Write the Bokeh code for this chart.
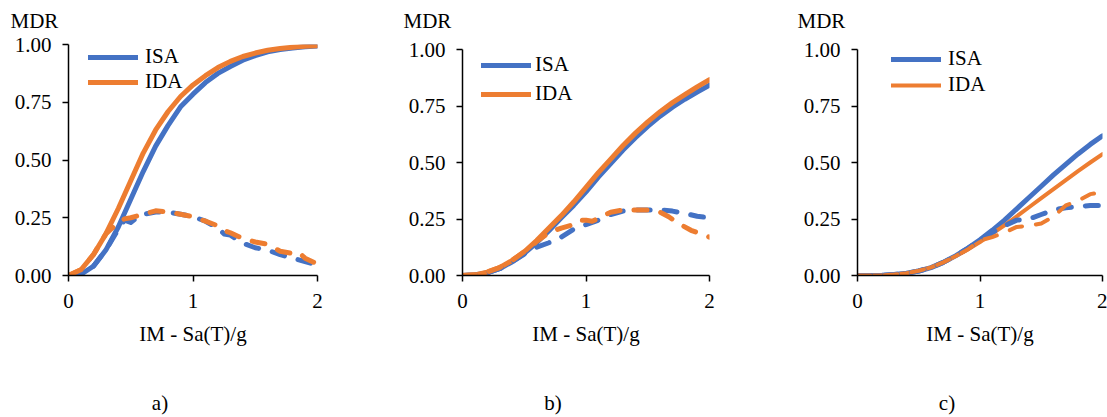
from bokeh.plotting import figure
from bokeh.layouts import row
from bokeh.models import Range1d, FixedTicker, NumeralTickFormatter, Legend, LegendItem, Label
from bokeh.embed import file_html
from bokeh.resources import INLINE

# ---------------- data ----------------
IM = [0.0, 0.1, 0.2, 0.3, 0.4, 0.5, 0.6, 0.7, 0.8, 0.9, 1.0,
      1.1, 1.2, 1.3, 1.4, 1.5, 1.6, 1.7, 1.8, 1.9, 2.0]

# panel a)
a_isa_mean = [0, 0.005, 0.04, 0.11, 0.21, 0.33, 0.45, 0.56, 0.65, 0.73, 0.785,
              0.835, 0.875, 0.905, 0.932, 0.952, 0.968, 0.978, 0.985, 0.99, 0.994]
a_ida_mean = [0, 0.025, 0.09, 0.18, 0.29, 0.41, 0.53, 0.63, 0.71, 0.775, 0.825,
              0.865, 0.9, 0.927, 0.948, 0.963, 0.975, 0.983, 0.988, 0.992, 0.995]
a_isa_sd_x = [0, 0.1, 0.2, 0.3, 0.4, 0.45, 0.5, 0.55, 0.6, 0.7, 0.8, 0.9, 1.0,
              1.1, 1.2, 1.25, 1.3, 1.4, 1.5, 1.55, 1.6, 1.7, 1.8, 1.9, 2.0]
a_isa_sd = [0, 0.005, 0.04, 0.11, 0.2, 0.24, 0.23, 0.25, 0.265, 0.275, 0.275, 0.265, 0.255,
            0.235, 0.205, 0.18, 0.175, 0.14, 0.12, 0.115, 0.11, 0.09, 0.075, 0.06, 0.045]
a_ida_sd_x = [0, 0.1, 0.2, 0.3, 0.4, 0.45, 0.5, 0.6, 0.7, 0.8, 0.9, 1.0,
              1.1, 1.2, 1.25, 1.3, 1.4, 1.5, 1.6, 1.7, 1.8, 1.85, 1.9, 2.0]
a_ida_sd = [0, 0.025, 0.09, 0.18, 0.23, 0.245, 0.25, 0.265, 0.28, 0.275, 0.265, 0.255,
            0.235, 0.215, 0.195, 0.185, 0.16, 0.145, 0.135, 0.105, 0.095, 0.1, 0.075, 0.05]

# panel b)
b_isa_mean = [0, 0.002, 0.012, 0.03, 0.06, 0.098, 0.145, 0.198, 0.255, 0.31, 0.37,
              0.435, 0.495, 0.555, 0.61, 0.66, 0.705, 0.745, 0.78, 0.812, 0.842]
b_ida_mean = [0, 0.003, 0.015, 0.035, 0.066, 0.105, 0.155, 0.21, 0.265, 0.325, 0.39,
              0.455, 0.515, 0.575, 0.63, 0.68, 0.725, 0.765, 0.80, 0.835, 0.867]
b_isa_sd_x = [0, 0.1, 0.2, 0.3, 0.4, 0.5, 0.6, 0.7, 0.77, 0.9, 1.0, 1.1, 1.2,
              1.3, 1.4, 1.5, 1.6, 1.7, 1.8, 1.9, 2.0]
b_isa_sd = [0, 0.002, 0.012, 0.03, 0.06, 0.095, 0.125, 0.145, 0.16, 0.205, 0.225, 0.245, 0.27,
            0.285, 0.29, 0.29, 0.29, 0.285, 0.275, 0.262, 0.255]
b_ida_sd_x = [0, 0.1, 0.2, 0.3, 0.4, 0.5, 0.6, 0.7, 0.8, 0.9, 0.95, 1.0, 1.05,
              1.2, 1.3, 1.4, 1.5, 1.6, 1.67, 1.75, 1.85, 1.9, 2.0]
b_ida_sd = [0, 0.003, 0.015, 0.035, 0.066, 0.105, 0.15, 0.19, 0.21, 0.225, 0.245, 0.245, 0.24,
            0.28, 0.29, 0.29, 0.29, 0.28, 0.26, 0.23, 0.2, 0.19, 0.17]

# panel c)
c_isa_mean = [0, 0, 0.001, 0.004, 0.01, 0.02, 0.035, 0.058, 0.087, 0.12, 0.158,
              0.2, 0.245, 0.295, 0.345, 0.395, 0.445, 0.492, 0.538, 0.58, 0.618]
c_ida_mean = [0, 0, 0.001, 0.004, 0.01, 0.021, 0.036, 0.058, 0.085, 0.115, 0.148,
              0.185, 0.222, 0.262, 0.302, 0.342, 0.382, 0.422, 0.462, 0.5, 0.537]
c_isa_sd = [0, 0, 0.001, 0.004, 0.01, 0.02, 0.035, 0.058, 0.087, 0.12, 0.155,
            0.19, 0.22, 0.245, 0.25, 0.27, 0.29, 0.30, 0.305, 0.31, 0.31]
c_ida_sd = [0, 0, 0.001, 0.004, 0.01, 0.021, 0.036, 0.058, 0.085, 0.115, 0.155,
            0.17, 0.19, 0.215, 0.22, 0.23, 0.26, 0.31, 0.33, 0.36, 0.37]

Y_TICKS = [0, 0.25, 0.5, 0.75, 1.0]
X_TICKS = [0, 1, 2]
SERIES = ["ISA", "IDA"]
PANEL_LABELS = ["a)", "b)", "c)"]
Y_TITLE = "MDR"
X_TITLE = "IM - Sa(T)/g"

BLUE = "#4472C4"
ORANGE = "#ED7D31"
FONT = "Liberation Serif"
FS = "21px"


def make_panel(xs_mean, isa_mean, ida_mean, isa_sd_x, isa_sd, ida_sd_x, ida_sd,
               tag, left, right, y_end, mdr_dx, mdr_dy, leg_loc, leg_spacing, leg_standoff,
               ida_lw=5):
    p = figure(width=369, height=417, x_range=Range1d(0, 2), y_range=Range1d(0, y_end),
               output_backend="svg", toolbar_location=None,
               min_border_left=left, min_border_right=right,
               min_border_top=44, min_border_bottom=142)
    p.outline_line_color = None
    p.grid.visible = False
    p.background_fill_color = "white"
    p.border_fill_color = "white"

    lw = 5
    r1 = p.line(xs_mean, isa_mean, line_color=BLUE, line_width=lw, line_cap="round", line_join="round")
    r2 = p.line(xs_mean, ida_mean, line_color=ORANGE, line_width=ida_lw, line_cap="round", line_join="round")
    p.line(isa_sd_x, isa_sd, line_color=BLUE, line_width=lw, line_dash="13 14",
           line_cap="round", line_join="round")
    p.line(ida_sd_x, ida_sd, line_color=ORANGE, line_width=ida_lw, line_dash="13 14",
           line_cap="round", line_join="round")

    for ax in (p.xaxis, p.yaxis):
        ax.axis_line_color = "black"
        ax.axis_line_width = 1.5
        ax.major_tick_line_color = "black"
        ax.major_tick_line_width = 1.5
        ax.major_tick_in = 0
        ax.major_tick_out = 6
        ax.minor_tick_line_color = None
        ax.major_label_text_font = FONT
        ax.major_label_text_font_size = FS
        ax.major_label_text_color = "black"
    p.yaxis.ticker = FixedTicker(ticks=Y_TICKS)
    p.yaxis.bounds = (0, 1)
    p.yaxis.formatter = NumeralTickFormatter(format="0.00")
    p.yaxis.major_label_standoff = 11
    p.xaxis.ticker = FixedTicker(ticks=X_TICKS)
    p.xaxis.major_label_standoff = 12
    p.xaxis.axis_label = X_TITLE
    p.xaxis.axis_label_text_font = FONT
    p.xaxis.axis_label_text_font_size = FS
    p.xaxis.axis_label_text_font_style = "normal"
    p.xaxis.axis_label_text_color = "black"
    p.xaxis.axis_label_standoff = 11

    p.add_layout(Label(x=0, y=1, x_offset=mdr_dx, y_offset=mdr_dy, text=Y_TITLE,
                       text_font=FONT, text_font_size=FS, text_color="black",
                       text_align="left", text_baseline="middle"), "above")
    p.add_layout(Label(x=1, y=0, x_offset=-33, y_offset=-127, text=tag,
                       text_font=FONT, text_font_size=FS, text_color="black",
                       text_align="center", text_baseline="middle"), "below")

    legend = Legend(items=[LegendItem(label=SERIES[0], renderers=[r1]),
                           LegendItem(label=SERIES[1], renderers=[r2])],
                    location=leg_loc, orientation="vertical")
    legend.background_fill_alpha = 0
    legend.border_line_color = None
    legend.padding = 0
    legend.margin = 0
    legend.spacing = leg_spacing
    legend.glyph_width = 50
    legend.glyph_height = 24
    legend.label_height = 24
    legend.label_standoff = leg_standoff
    legend.label_text_font = FONT
    legend.label_text_font_size = FS
    legend.label_text_color = "black"
    p.add_layout(legend)
    return p


YEND_BC = 231 / 226  # panels b) and c) have their 1.00 tick 5 px lower

pa = make_panel(IM, a_isa_mean, a_ida_mean, a_isa_sd_x, a_isa_sd, a_ida_sd_x, a_ida_sd,
                PANEL_LABELS[0], 68, 52, 1.0, -58, 24, (20, 181), 0, 7)
pb = make_panel(IM, b_isa_mean, b_ida_mean, b_isa_sd_x, b_isa_sd, b_ida_sd_x, b_ida_sd,
                PANEL_LABELS[1], 93, 29, YEND_BC, -59, 29, (19, 169), 4, 4)
pc = make_panel(IM, c_isa_mean, c_ida_mean, IM, c_isa_sd, IM, c_ida_sd,
                PANEL_LABELS[2], 119, 5, YEND_BC, -60, 29, (34, 178), 1, 7, ida_lw=4)

layout = row(pa, pb, pc, spacing=0)
open("out.html", "w").write(file_html(layout, INLINE))
